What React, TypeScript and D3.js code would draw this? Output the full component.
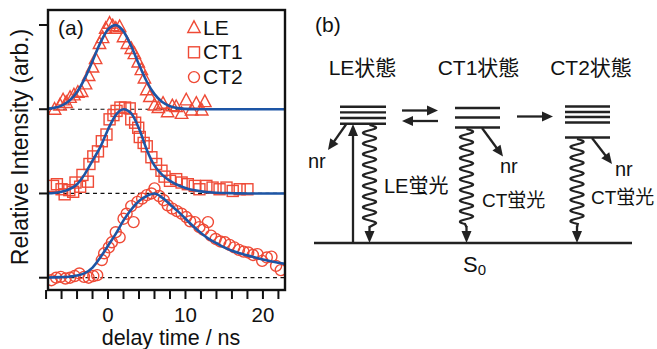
import React from 'react';
import * as d3 from 'd3';

// measured decay traces (relative intensity vs delay time / ns)
const leTime = [-6.9, -6.2, -5.8, -5.4, -4.9, -4.4, -3.9, -3.4, -2.9, -2.5, -2.0, -1.6, -1.1, -0.7, -0.3, 0.2, 0.6, 1.0, 1.5, 2.0, 2.5, 3.0, 3.4, 3.9, 4.3, 4.7, 5.0, 5.4, 6.0, 6.5, 7.1, 7.7, 8.3, 8.8, 9.5, 10.1, 10.8, 11.4, 12.1, 12.5];
const leValue = [0.0, 0.05, 0.11, 0.08, 0.14, 0.17, 0.2, 0.21, 0.3, 0.4, 0.5, 0.6, 0.78, 0.85, 0.96, 1.02, 0.99, 0.96, 0.98, 0.86, 0.78, 0.72, 0.66, 0.56, 0.47, 0.37, 0.23, 0.15, 0.05, 0.02, 0.07, -0.03, 0.04, 0.03, -0.05, 0.11, -0.01, 0.07, -0.01, 0.09];

const ct1Time = [-7.1, -6.6, -6.0, -5.6, -5.0, -4.5, -4.2, -3.6, -3.3, -2.6, -2.4, -1.9, -1.3, -0.8, -0.2, 0.2, 0.7, 1.1, 1.6, 2.2, 2.8, 3.0, 3.5, 3.9, 4.1, 4.6, 5.0, 5.6, 6.2, 6.9, 7.3, 8.0, 8.8, 9.5, 10.3, 11.2, 11.8, 12.7, 13.5, 14.4, 15.3, 16.1, 17.0, 18.0];
const ct1Value = [0.09, 0.11, 0.05, -0.01, 0.04, 0.02, 0.13, 0.08, 0.22, 0.14, 0.35, 0.44, 0.5, 0.62, 0.7, 0.88, 0.93, 0.98, 1.02, 1.02, 1.01, 0.88, 0.84, 0.78, 0.67, 0.6, 0.56, 0.43, 0.35, 0.27, 0.2, 0.15, 0.17, 0.13, 0.11, 0.09, 0.05, 0.09, 0.07, 0.05, 0.07, 0.03, 0.05, 0.05];

const ct2Time = [-7.3, -6.7, -6.1, -5.5, -4.9, -4.3, -3.7, -3.1, -2.5, -1.9, -1.4, -0.8, -0.5, 0.1, 0.5, 1.0, 1.5, 2.0, 2.4, 3.0, 3.3, 3.8, 4.4, 5.0, 5.6, 6.0, 6.6, 7.2, 7.7, 8.3, 8.9, 9.5, 10.1, 10.6, 11.2, 11.8, 12.3, 12.9, 13.3, 13.9, 14.5, 15.1, 15.7, 16.3, 16.9, 17.5, 18.1, 18.7, 19.3, 19.9, 20.5, 21.1, 21.7, 22.3];
const ct2Value = [-0.03, 0.0, 0.01, -0.01, 0.0, 0.02, 0.05, 0.01, 0.0, 0.02, 0.03, 0.21, 0.29, 0.36, 0.42, 0.54, 0.48, 0.7, 0.76, 0.85, 0.66, 0.9, 0.94, 0.98, 1.0, 1.06, 0.97, 0.92, 0.86, 0.82, 0.79, 0.76, 0.72, 0.67, 0.66, 0.6, 0.57, 0.66, 0.5, 0.46, 0.43, 0.42, 0.39, 0.36, 0.33, 0.31, 0.3, 0.27, 0.28, 0.2, 0.24, 0.25, 0.14, 0.09];

const fitTime = [-8, -7, -6, -5, -4, -3, -2, -1, 0, 1, 2, 3, 4, 5, 6, 7, 8, 9, 10, 11, 12, 13, 14, 15, 16, 17, 18, 19, 20, 21, 22, 23];
const leFit = [0.005, 0.016, 0.043, 0.1, 0.204, 0.366, 0.573, 0.788, 0.948, 0.999, 0.923, 0.747, 0.53, 0.329, 0.179, 0.085, 0.036, 0.013, 0.004, 0.001, 0, 0, 0, 0, 0, 0, 0, 0, 0, 0, 0, 0];
const ct1Fit = [0.002, 0.006, 0.02, 0.05, 0.11, 0.23, 0.39, 0.55, 0.76, 0.93, 1.0, 0.95, 0.77, 0.52, 0.33, 0.22, 0.15, 0.1, 0.065, 0.04, 0.025, 0.015, 0.009, 0.005, 0.003, 0.001, 0, 0, 0, 0, 0, 0];
const ct2Fit = [0.002, 0.004, 0.007, 0.012, 0.025, 0.055, 0.12, 0.24, 0.38, 0.52, 0.68, 0.81, 0.91, 0.97, 1.0, 0.95, 0.87, 0.79, 0.7, 0.61, 0.53, 0.46, 0.41, 0.36, 0.32, 0.29, 0.265, 0.24, 0.215, 0.195, 0.178, 0.162];

const seriesNames = ['LE', 'CT1', 'CT2'];
const seriesOffsets = [2, 1, 0];
const xTickLabels = [0, 10, 20];
const yTickValues = [0, 1, 2, 3];

const stateLabels = ['LE状態', 'CT1状態', 'CT2状態'];

const RED = '#ef4a36';
const BLUE = '#1d55a5';
const FONT = '"Liberation Sans", Arial, "Noto Sans CJK JP", sans-serif';

function Marker({ kind, cx, cy }) {
  if (kind === 'LE') {
    const s = 6.2;
    return <polygon points={`${cx},${cy - s - 0.5} ${cx + s},${cy + s * 0.8} ${cx - s},${cy + s * 0.8}`} fill="none" stroke={RED} strokeWidth={1.4} />;
  }
  if (kind === 'CT1') {
    return <rect x={cx - 5.5} y={cy - 5.5} width={11} height={11} fill="none" stroke={RED} strokeWidth={1.4} />;
  }
  return <circle cx={cx} cy={cy} r={5.5} fill="none" stroke={RED} strokeWidth={1.4} />;
}

function Arrow({ x1, y1, x2, y2, len = 11, w = 10, sw = 2.3 }) {
  const dx = x2 - x1, dy = y2 - y1;
  const d = Math.hypot(dx, dy);
  const ux = dx / d, uy = dy / d;
  const bx = x2 - ux * len, by = y2 - uy * len;
  const px = -uy * w / 2, py = ux * w / 2;
  return (
    <g>
      <line x1={x1} y1={y1} x2={bx + ux} y2={by + uy} stroke="#222" strokeWidth={sw} />
      <polygon points={`${x2},${y2} ${bx + px},${by + py} ${bx - px},${by - py}`} fill="#222" />
    </g>
  );
}

function WavyArrow({ cx, y0, y1, tip }) {
  const pts = [];
  const period = 10.6;
  for (let yy = y0; yy <= y1; yy += 0.5) {
    pts.push([cx + 6.5 * Math.sin(((yy - y0) / period) * 2 * Math.PI), yy]);
  }
  pts.push([cx, y1 + 3]);
  const wave = d3.line()(pts);
  return (
    <g>
      <path d={wave} fill="none" stroke="#222" strokeWidth={2.3} />
      <Arrow x1={cx} y1={y1 + 2} x2={cx} y2={tip} len={12} w={10} />
    </g>
  );
}

export default function App() {
  const x = d3.scaleLinear().domain([-7.75, 22.85]).range([48, 285]);
  const y = d3.scaleLinear().domain([-0.146, 3.178]).range([290, 10]);

  const fitLine = d3.line().x((d) => x(d[0])).y((d) => y(d[1])).curve(d3.curveMonotoneX);

  const series = [
    { name: 'LE', t: leTime, v: leValue, fit: leFit },
    { name: 'CT1', t: ct1Time, v: ct1Value, fit: ct1Fit },
    { name: 'CT2', t: ct2Time, v: ct2Value, fit: ct2Fit },
  ];

  const xTicks = d3.range(-8, 23, 2);

  return (
    <svg width={657} height={349} style={{ position: 'absolute', left: 0, top: 0, background: '#fff' }} fontFamily={FONT}>
      <defs>
        <clipPath id="plotClip">
          <rect x={48} y={10} width={237} height={280} />
        </clipPath>
      </defs>

      {/* ---- panel (a) ---- */}
      <g clipPath="url(#plotClip)">
        {seriesOffsets.map((off) => (
          <line key={off} x1={48} x2={285} y1={y(off)} y2={y(off)} stroke="#111" strokeWidth={1.2} strokeDasharray="4,3.5" />
        ))}
        {series.map((s, i) =>
          s.t.map((t, j) => <Marker key={s.name + j} kind={s.name} cx={x(t)} cy={y(s.v[j] + seriesOffsets[i])} />)
        )}
        {series.map((s, i) => (
          <path key={s.name} d={fitLine(fitTime.map((t, j) => [t, s.fit[j] + seriesOffsets[i]]))} fill="none" stroke={BLUE} strokeWidth={2.6} />
        ))}
      </g>
      <rect x={48} y={10} width={237} height={280} fill="none" stroke="#111" strokeWidth={2.4} />
      {yTickValues.map((v) => (
        <line key={v} x1={39} x2={48} y1={y(v)} y2={y(v)} stroke="#111" strokeWidth={2} />
      ))}
      {xTicks.map((t) => (
        <line key={t} x1={x(t)} x2={x(t)} y1={290} y2={299} stroke="#111" strokeWidth={2} />
      ))}
      {xTickLabels.map((t) => (
        <text key={t} x={x(t)} y={322} fontSize={20.5} textAnchor="middle" fill="#111">{t}</text>
      ))}
      <text x={171} y={344.5} fontSize={21.5} textAnchor="middle" fill="#111">delay time / ns</text>
      <text transform="translate(28,147) rotate(-90)" fontSize={23} textAnchor="middle" fill="#111">Relative Intensity (arb.)</text>
      <text x={58} y={35} fontSize={21} fill="#111">(a)</text>

      {seriesNames.map((n, i) => (
        <g key={n}>
          <Marker kind={n} cx={194} cy={27.5 + i * 24.8} />
          <text x={203} y={35 + i * 24.3} fontSize={21} fill="#111">{n}</text>
        </g>
      ))}

      {/* ---- panel (b) ---- */}
      <text x={315} y={32} fontSize={21} fill="#111">(b)</text>
      {stateLabels.map((s, i) => (
        <text key={s} x={[362.5, 478.5, 591][i]} y={75} fontSize={21} textAnchor="middle" fill="#111">{s}</text>
      ))}

      {[106.8, 112.4, 118, 123.8].map((yy) => (
        <line key={'le' + yy} x1={340} x2={386} y1={yy} y2={yy} stroke="#222" strokeWidth={2.4} />
      ))}
      {[108, 117.5, 127.5].map((yy) => (
        <line key={'c1' + yy} x1={455} x2={500} y1={yy} y2={yy} stroke="#222" strokeWidth={2.4} />
      ))}
      {[106.5, 112, 117, 122.5, 137.5].map((yy) => (
        <line key={'c2' + yy} x1={565} x2={610} y1={yy} y2={yy} stroke="#222" strokeWidth={2.4} />
      ))}

      <Arrow x1={402} y1={110.5} x2={438} y2={110.5} />
      <Arrow x1={438} y1={121} x2={402} y2={121} />
      <Arrow x1={517} y1={116.5} x2={553} y2={116.5} />

      <line x1={314} x2={632} y1={243} y2={243} stroke="#222" strokeWidth={2.6} />

      <Arrow x1={353} y1={243} x2={353} y2={124} len={12} w={10} />
      <Arrow x1={346} y1={124.5} x2={328} y2={150} />
      <Arrow x1={482} y1={128} x2={503} y2={156.5} />
      <Arrow x1={592} y1={138} x2={612} y2={164} />

      <WavyArrow cx={369.5} y0={125} y1={224} tip={243} />
      <WavyArrow cx={466.5} y0={129} y1={224} tip={243} />
      <WavyArrow cx={577} y0={139} y1={224} tip={243} />

      <text x={308} y={168} fontSize={20} fill="#111">nr</text>
      <text x={500} y={173} fontSize={20} fill="#111">nr</text>
      <text x={615} y={176} fontSize={20} fill="#111">nr</text>

      <text x={384} y={193} fontSize={20} fill="#111">LE蛍光</text>
      <text x={482} y={207} fontSize={19} fill="#111">CT蛍光</text>
      <text x={591} y={204} fontSize={19} fill="#111">CT蛍光</text>

      <text x={463} y={272} fontSize={22} fill="#111">S<tspan fontSize={15} dy={3}>0</tspan></text>
    </svg>
  );
}
